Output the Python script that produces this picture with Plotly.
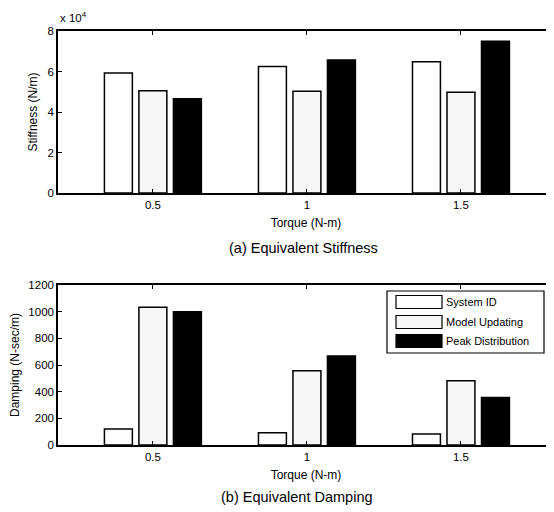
import plotly.graph_objects as go

torque = [0.5, 1.0, 1.5]
series = ["System ID", "Model Updating", "Peak Distribution"]
stiffness_sysid = [5.92, 6.25, 6.48]
stiffness_model = [5.05, 5.02, 4.98]
stiffness_peak = [4.65, 6.57, 7.49]
damping_sysid = [120, 92, 82]
damping_model = [1033, 557, 482]
damping_peak = [1000, 667, 357]
stiff_ticks = [0, 2, 4, 6, 8]
damp_ticks = [0, 200, 400, 600, 800, 1000, 1200]

fills = ["white", "#f7f7f7", "black"]

# the page body has an 8px margin; build the figure in page coordinates minus it
OFF = 8
W, H = 554 - OFF, 512 - OFF
ML = 58 - OFF
def px(x):
    return (x - OFF - ML) / (W - ML)
def py(y):
    return 1 - (y - OFF) / H

fig = go.Figure()
for vals, name, col in zip([stiffness_sysid, stiffness_model, stiffness_peak], series, fills):
    fig.add_trace(go.Bar(x=torque, y=vals, name=name, marker=dict(color=col, line=dict(color="black", width=1.5)),
                         xaxis="x", yaxis="y", showlegend=False))
for vals, name, col in zip([damping_sysid, damping_model, damping_peak], series, fills):
    fig.add_trace(go.Bar(x=torque, y=vals, name=name, marker=dict(color=col, line=dict(color="black", width=1.5)),
                         xaxis="x2", yaxis="y2", showlegend=False))

axis_common = dict(showline=True, linecolor="black", linewidth=1.5, mirror="ticks", ticks="inside",
                   ticklen=4, tickcolor="black", showgrid=False, zeroline=False, automargin=False,
                   tickfont=dict(family="Liberation Sans, Arial", size=11.5, color="black"))
xr = [0.192, 1.802]
tfont = dict(size=12)
fig.update_layout(
    width=W, height=H, margin=dict(l=ML, r=0, t=0, b=0),
    paper_bgcolor="white", plot_bgcolor="white",
    barmode="group", bargap=0.328, bargroupgap=0.19,
    font=dict(family="Liberation Sans, Arial", size=11, color="black"),
    xaxis=dict(domain=[0, 1], range=xr, tickvals=torque, ticktext=["0.5", "1", "1.5"], anchor="y",
               title=dict(text="Torque (N-m)", font=tfont, standoff=9), **axis_common),
    yaxis=dict(domain=[py(193), py(31)], range=[0, 8], tickvals=stiff_ticks, anchor="x",
               title=dict(text="Stiffness (N/m)", font=tfont, standoff=7), **axis_common),
    xaxis2=dict(domain=[0, 1], range=xr, tickvals=torque, ticktext=["0.5", "1", "1.5"], anchor="y2",
                title=dict(text="Torque (N-m)", font=tfont, standoff=9), **axis_common),
    yaxis2=dict(domain=[py(445), py(285)], range=[0, 1200], tickvals=damp_ticks, anchor="x2",
                title=dict(text="Damping (N-sec/m)", font=tfont, standoff=8), **axis_common),
)

fig.add_annotation(x=px(58), y=py(17), xref="paper", yref="paper", xanchor="left", yanchor="middle",
                   text="x 10<sup>4</sup>", showarrow=False, font=dict(size=11.5))
fig.add_annotation(x=px(303), y=py(248), xref="paper", yref="paper", xanchor="center", yanchor="middle",
                   text="(a) Equivalent Stiffness", showarrow=False, font=dict(size=14.5))
fig.add_annotation(x=px(297), y=py(497), xref="paper", yref="paper", xanchor="center", yanchor="middle",
                   text="(b) Equivalent Damping", showarrow=False, font=dict(size=14.5))

# custom legend
fig.add_shape(type="rect", xref="paper", yref="paper", x0=px(387), x1=px(544), y0=py(353), y1=py(291),
              line=dict(color="black", width=1.2), fillcolor="white", layer="above")
rows = [302, 322, 341]
for name, col, ry in zip(series, fills, rows):
    fig.add_shape(type="rect", xref="paper", yref="paper", x0=px(396), x1=px(442), y0=py(ry + 6.5), y1=py(ry - 6.5),
                  line=dict(color="black", width=1.2), fillcolor=col, layer="above")
    fig.add_annotation(x=px(444), y=py(ry), xref="paper", yref="paper", xanchor="left", yanchor="middle",
                       text=name, showarrow=False, font=dict(size=11))

fig.write_html("out.html")
